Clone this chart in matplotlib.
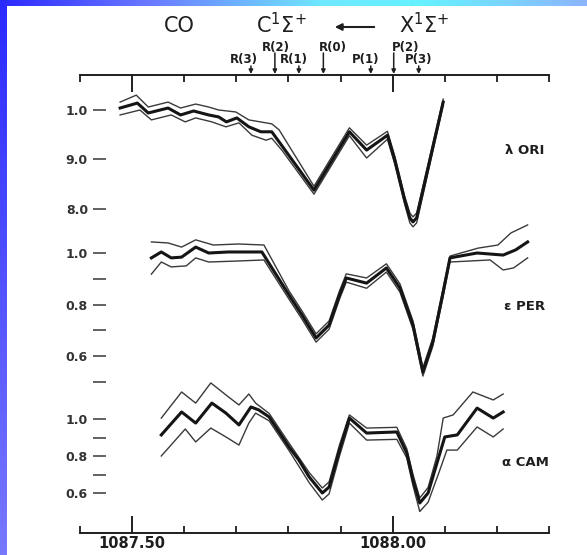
import numpy as np
import matplotlib
matplotlib.use("Agg")
import matplotlib.pyplot as plt
import matplotlib.transforms as mtransforms
from matplotlib.colors import LinearSegmentedColormap

# ---------------- data ----------------
x_range = (1087.40, 1088.30)
x_major = [1087.50, 1088.00]
x_major_labels = ["1087.50", "1088.00"]
x_minor = [1087.40, 1087.60, 1087.70, 1087.80, 1087.90, 1088.10, 1088.20, 1088.30]

line_ids = ["R(3)", "R(2)", "R(1)", "R(0)", "P(1)", "P(2)", "P(3)"]
line_wl = [1087.728, 1087.774, 1087.820, 1087.867, 1087.958, 1088.002, 1088.050]
line_row = [2, 1, 2, 1, 2, 1, 2]

star_names = ["λ ORI", "ε PER", "α CAM"]

# lambda Ori
ori_x = [1087.477, 1087.510, 1087.531, 1087.569, 1087.593, 1087.618, 1087.647, 1087.666,
         1087.681, 1087.701, 1087.724, 1087.747, 1087.768, 1087.788, 1087.849, 1087.917,
         1087.950, 1087.990, 1088.004, 1088.023, 1088.033, 1088.039, 1088.046, 1088.097]
ori_y = [1.004, 1.014, 0.994, 1.004, 0.990, 0.998, 0.990, 0.986,
         0.976, 0.984, 0.966, 0.956, 0.956, 0.927, 0.838, 0.956,
         0.919, 0.949, 0.899, 0.818, 0.782, 0.774, 0.782, 1.016]
ori_hi_x = [1087.477, 1087.508, 1087.531, 1087.569, 1087.593, 1087.622, 1087.647, 1087.666,
            1087.699, 1087.724, 1087.768, 1087.782, 1087.849, 1087.917, 1087.950, 1087.990,
            1088.004, 1088.023, 1088.033, 1088.039, 1088.046, 1088.097]
ori_hi_y = [1.016, 1.030, 1.006, 1.016, 1.004, 1.012, 1.006, 1.000,
            0.996, 0.980, 0.972, 0.960, 0.846, 0.964, 0.929, 0.957,
            0.907, 0.826, 0.792, 0.784, 0.792, 1.022]
ori_lo_x = [1087.477, 1087.515, 1087.537, 1087.575, 1087.602, 1087.622, 1087.653, 1087.680,
            1087.705, 1087.730, 1087.757, 1087.768, 1087.788, 1087.849, 1087.917, 1087.950,
            1087.990, 1088.004, 1088.023, 1088.033, 1088.039, 1088.046, 1088.097]
ori_lo_y = [0.990, 1.000, 0.980, 0.990, 0.976, 0.984, 0.976, 0.966,
            0.974, 0.949, 0.939, 0.943, 0.918, 0.830, 0.948, 0.903,
            0.941, 0.891, 0.810, 0.772, 0.764, 0.772, 1.010]

# epsilon Per
per_x = [1087.537, 1087.556, 1087.575, 1087.595, 1087.622, 1087.647, 1087.685, 1087.724,
         1087.749, 1087.801, 1087.826, 1087.853, 1087.878, 1087.898, 1087.911, 1087.950,
         1087.988, 1088.014, 1088.039, 1088.058, 1088.077, 1088.097, 1088.110, 1088.162,
         1088.212, 1088.236, 1088.259]
per_y = [0.981, 1.004, 0.981, 0.984, 1.023, 1.000, 1.004, 1.004,
         1.004, 0.837, 0.759, 0.670, 0.720, 0.837, 0.903, 0.883,
         0.942, 0.864, 0.720, 0.538, 0.654, 0.849, 0.981, 1.000,
         0.992, 1.012, 1.043]
per_hi_x = [1087.537, 1087.569, 1087.595, 1087.622, 1087.656, 1087.704, 1087.753, 1087.801,
            1087.826, 1087.853, 1087.878, 1087.898, 1087.911, 1087.950, 1087.988, 1088.014,
            1088.039, 1088.058, 1088.077, 1088.097, 1088.110, 1088.164, 1088.202, 1088.227,
            1088.259]
per_hi_y = [1.043, 1.039, 1.023, 1.051, 1.031, 1.035, 1.031, 0.853,
            0.775, 0.686, 0.736, 0.853, 0.919, 0.903, 0.958, 0.880,
            0.736, 0.554, 0.670, 0.865, 0.988, 1.019, 1.031, 1.078,
            1.109]
per_lo_x = [1087.537, 1087.556, 1087.575, 1087.604, 1087.622, 1087.647, 1087.704, 1087.753,
            1087.801, 1087.826, 1087.853, 1087.878, 1087.898, 1087.911, 1087.950, 1087.988,
            1088.014, 1088.039, 1088.058, 1088.077, 1088.097, 1088.110, 1088.187, 1088.212,
            1088.232, 1088.259]
per_lo_y = [0.918, 0.965, 0.946, 0.950, 0.981, 0.965, 0.969, 0.973,
            0.821, 0.743, 0.654, 0.704, 0.821, 0.887, 0.863, 0.926,
            0.848, 0.704, 0.522, 0.638, 0.833, 0.965, 0.973, 0.934,
            0.942, 0.981]

# alpha Cam
cam_x = [1087.556, 1087.595, 1087.622, 1087.653, 1087.680, 1087.705, 1087.728, 1087.743,
         1087.763, 1087.801, 1087.820, 1087.840, 1087.865, 1087.878, 1087.898, 1087.917,
         1087.950, 1088.008, 1088.027, 1088.039, 1088.052, 1088.068, 1088.085, 1088.100,
         1088.124, 1088.162, 1088.193, 1088.212]
cam_y = [0.914, 1.038, 0.978, 1.086, 1.032, 0.968, 1.065, 1.049,
         1.011, 0.849, 0.778, 0.686, 0.600, 0.632, 0.832, 1.005,
         0.924, 0.930, 0.816, 0.670, 0.546, 0.600, 0.762, 0.903,
         0.914, 1.059, 1.005, 1.038]
cam_hi_x = [1087.556, 1087.595, 1087.622, 1087.651, 1087.685, 1087.705, 1087.724, 1087.737,
            1087.763, 1087.801, 1087.840, 1087.865, 1087.878, 1087.898, 1087.917, 1087.950,
            1088.008, 1088.027, 1088.039, 1088.052, 1088.068, 1088.085, 1088.097, 1088.116,
            1088.154, 1088.193, 1088.212]
cam_hi_y = [1.005, 1.146, 1.086, 1.195, 1.119, 1.076, 1.135, 1.086,
            1.030, 0.870, 0.710, 0.627, 0.660, 0.860, 1.022, 0.951,
            0.955, 0.840, 0.700, 0.573, 0.630, 0.800, 1.005, 1.022,
            1.146, 1.103, 1.135]
cam_lo_x = [1087.556, 1087.602, 1087.622, 1087.651, 1087.680, 1087.705, 1087.724, 1087.737,
            1087.763, 1087.801, 1087.840, 1087.865, 1087.878, 1087.898, 1087.917, 1087.950,
            1088.008, 1088.027, 1088.039, 1088.052, 1088.068, 1088.090, 1088.104, 1088.124,
            1088.162, 1088.193, 1088.212]
cam_lo_y = [0.800, 0.946, 0.876, 0.951, 0.903, 0.859, 0.978, 1.032,
            0.990, 0.830, 0.655, 0.562, 0.595, 0.800, 0.978, 0.886,
            0.890, 0.790, 0.640, 0.500, 0.550, 0.720, 0.832, 0.832,
            0.957, 0.903, 0.946]

p1_ticks = [1.0, 0.9, 0.8]
p1_labels = ["1.0", "9.0", "8.0"]
p1_minor = []
p2_ticks = [1.0, 0.8, 0.6]
p2_labels = ["1.0", "0.8", "0.6"]
p2_minor = [0.9, 0.7]
p3_ticks = [1.0, 0.8, 0.6]
p3_labels = ["1.0", "0.8", "0.6"]
p3_minor = [1.2, 0.9, 0.7]

# ---------------- layout (pixels) ----------------
W, H = 587, 555
fig = plt.figure(figsize=(W / 100, H / 100), dpi=100, facecolor="white")

def frac_rect(left, top, right, bottom):
    return [left / W, 1 - bottom / H, (right - left) / W, (bottom - top) / H]

def fy(py):
    return 1 - py / H

# background: blue frame strips
bg = fig.add_axes([0, 0, 1, 1], zorder=-10)
bg.set_axis_off()
img = np.ones((H, W, 3))
top_cmap = LinearSegmentedColormap.from_list(
    "top", [(0.0, "#2a2aff"), (0.25, "#6a78ff"), (0.55, "#6fe8ff"),
            (0.72, "#66f2ff"), (0.88, "#7cd0ff"), (1.0, "#8cb4ff")])
left_cmap = LinearSegmentedColormap.from_list("left", ["#2a2aff", "#7878ff"])
top_cols = top_cmap(np.linspace(0, 1, W))[:, :3]
left_cols = left_cmap(np.linspace(0, 1, H))[:, :3]
img[:, :7, :] = left_cols[:, None, :]
img[:6, :, :] = top_cols[None, :, :]
bg.imshow(img, extent=[0, 1, 0, 1], aspect="auto", interpolation="bilinear")
bg.set_xlim(0, 1)
bg.set_ylim(0, 1)

ink = "#1e1e1e"
AX_L, AX_R, AX_T, AX_B = 80, 549, 75, 533

# frame with wavelength scale top and bottom
fr = fig.add_axes(frac_rect(AX_L, AX_T, AX_R, AX_B), facecolor="none")
fr.set_xlim(*x_range)
fr.set_ylim(0, 1)
for s in ["left", "right"]:
    fr.spines[s].set_visible(False)
for s in ["top", "bottom"]:
    fr.spines[s].set_linewidth(1.4)
    fr.spines[s].set_color(ink)
fr.set_yticks([])
fr.set_xticks(x_major)
fr.set_xticklabels(x_major_labels, fontsize=10.5, fontweight="bold", color=ink)
fr.set_xticks(x_minor, minor=True)
fr.tick_params(axis="x", which="major", direction="in", length=12, width=1.4,
               top=True, bottom=True, color=ink, pad=2.5)
fr.tick_params(axis="x", which="minor", direction="in", length=5, width=1.3,
               top=True, bottom=True, color=ink)

# rotational line markers above the top scale
blend = mtransforms.blended_transform_factory(fr.transData, fig.transFigure)
label_dx = [-7, 1, -5, 10, -5, 12, 0]   # label offset from marker, pixels
px_per_unit = (AX_R - AX_L) / (x_range[1] - x_range[0])
for name, wl, row, dx in zip(line_ids, line_wl, line_row, label_dx):
    ly = 47 if row == 1 else 60
    start = 53 if row == 1 else 66
    fr.annotate("", xy=(wl, fy(AX_T - 1)), xytext=(wl, fy(start)),
                xycoords=blend, textcoords=blend,
                arrowprops=dict(arrowstyle="-|>", lw=1.1, color=ink,
                                mutation_scale=6, shrinkA=0, shrinkB=0))
    fr.text(wl + dx / px_per_unit, fy(ly), name, transform=blend,
            ha="center", va="center", fontsize=8.5, fontweight="bold", color=ink)

# title
fig.text(179 / W, fy(26), "CO", ha="center", va="center", fontsize=15, color=ink)
fig.text(281 / W, fy(25), r"C$^{1}\Sigma^{+}$", ha="center", va="center",
         fontsize=15, color=ink)
fig.text(424 / W, fy(25), r"X$^{1}\Sigma^{+}$", ha="center", va="center",
         fontsize=15, color=ink)
fig.add_artist(matplotlib.patches.FancyArrowPatch(
    (377 / W, fy(27)), (332 / W, fy(27)), transform=fig.transFigure,
    arrowstyle="-|>", mutation_scale=10, lw=1.5, color=ink))

# panels
PL = 106
x0p = x_range[0] + (PL - AX_L) / px_per_unit
panels = [
    (ori_x, ori_y, ori_hi_x, ori_hi_y, ori_lo_x, ori_lo_y, 90, 232, 110, 495,
     p1_ticks, p1_labels, p1_minor, 150),
    (per_x, per_y, per_hi_x, per_hi_y, per_lo_x, per_lo_y, 232, 378, 253, 257.5,
     p2_ticks, p2_labels, p2_minor, 307),
    (cam_x, cam_y, cam_hi_x, cam_hi_y, cam_lo_x, cam_lo_y, 376, 520, 419, 185,
     p3_ticks, p3_labels, p3_minor, 463),
]
for (cx, cy, hx, hy, lx, ly, tp, bp, refp, ppf, tks, tls, mnr, ny), name in zip(panels, star_names):
    ax = fig.add_axes(frac_rect(PL, tp, AX_R, bp), facecolor="none")
    ax.set_xlim(x0p, x_range[1])
    ax.set_ylim(1 - (bp - refp) / ppf, 1 + (refp - tp) / ppf)
    for s in ax.spines.values():
        s.set_visible(False)
    ax.set_xticks([])
    ax.set_yticks(tks)
    ax.set_yticklabels(tls, fontsize=9, fontweight="bold", color="#333333")
    ax.set_yticks(mnr, minor=True)
    ax.tick_params(axis="y", which="both", direction="out", length=9.5, width=1.3,
                   color="#555555", pad=3.5)
    ax.plot(hx, hy, color="#3a3a3a", lw=1.0, clip_on=False, solid_joinstyle="round")
    ax.plot(lx, ly, color="#3a3a3a", lw=1.0, clip_on=False, solid_joinstyle="round")
    ax.plot(cx, cy, color="#151515", lw=2.2, clip_on=False, solid_joinstyle="round")
    fig.text(525 / W, fy(ny), name, ha="center", va="center", fontsize=9.5,
             fontweight="bold", color=ink)

fig.savefig("out.png", dpi=100, facecolor="white")
